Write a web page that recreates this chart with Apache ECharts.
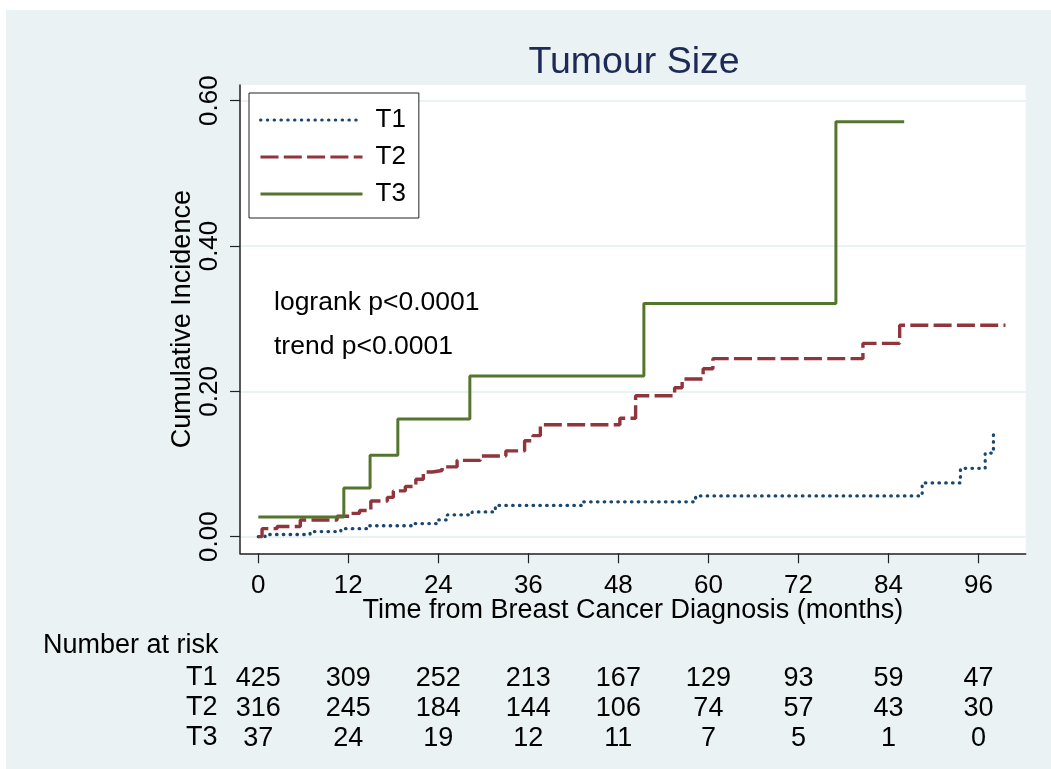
<!DOCTYPE html>
<html>
<head>
<meta charset="utf-8">
<title>Tumour Size</title>
<script src="https://cdn.jsdelivr.net/npm/echarts@6/dist/echarts.min.js"></script>
<style>
  html, body { margin: 0; padding: 0; background: #ffffff; }
  #backdrop { position: absolute; left: 6px; top: 10px; width: 1045px; height: 759px; background: #eaf2f3; }
  #chart { position: absolute; left: 0; top: 0; width: 1051px; height: 769px; }
</style>
</head>
<body>
<div id="backdrop"></div>
<div id="chart"></div>
<script>
// Cumulative incidence step curves by tumour size group (months, proportion)
const t1Times  = [0, 0.9, 6.9, 11.0, 14.8, 20.9, 23.8, 25.2, 28.5, 31.6, 43.2, 58.3, 88.5, 93.6, 96.9, 98.0, 98.3];
const t1Values = [0, 0.003, 0.007, 0.011, 0.015, 0.018, 0.023, 0.030, 0.034, 0.043, 0.048, 0.056, 0.074, 0.094, 0.115, 0.143, 0.143];

const t2Times  = [0, 0.5, 2.5, 5.6, 10.5, 12.3, 13.5, 15.0, 17.2, 18.0, 19.6, 21.0, 22.0, 23.2, 24.5, 26.5, 29.6, 33.0, 35.5, 36.6, 37.6, 48.2, 50.3, 55.5, 56.5, 59.3, 60.6, 80.6, 85.5, 99.6];
const t2Values = [0, 0.011, 0.014, 0.023, 0.028, 0.032, 0.036, 0.049, 0.054, 0.063, 0.069, 0.079, 0.089, 0.091, 0.096, 0.105, 0.111, 0.118, 0.132, 0.139, 0.154, 0.163, 0.194, 0.205, 0.217, 0.231, 0.245, 0.266, 0.291, 0.291];

const t3Times  = [0, 11.4, 14.9, 18.6, 28.2, 51.4, 77.0, 86.1];
const t3Values = [0.027, 0.067, 0.112, 0.162, 0.221, 0.321, 0.571, 0.571];

// Axis ticks
const xTicks = [0, 12, 24, 36, 48, 60, 72, 84, 96];
const yTicks = [0, 0.2, 0.4, 0.6];

// Number at risk at each x tick
const groups = ['T1', 'T2', 'T3'];
const riskT1 = [425, 309, 252, 213, 167, 129, 93, 59, 47];
const riskT2 = [316, 245, 184, 144, 106, 74, 57, 43, 30];
const riskT3 = [37, 24, 19, 12, 11, 7, 5, 1, 0];
const riskRows = [riskT1, riskT2, riskT3];

const FONT = "'Liberation Sans', Arial, sans-serif";
const X_MIN = -2.44, X_MAX = 102.3;
const Y_MIN = -0.0229, Y_MAX = 0.6216;

function pairs(times, values) {
  return times.map((t, i) => [t, values[i]]);
}

const mainX = {
  type: 'value', min: X_MIN, max: X_MAX, position: 'bottom',
  name: 'Time from Breast Cancer Diagnosis (months)',
  nameLocation: 'middle', nameGap: 44, nameMoveOverlap: false,
  nameTextStyle: { fontSize: 27, color: '#000', fontFamily: FONT, lineHeight: 27 },
  axisLine: { show: true, onZero: false, lineStyle: { color: '#222', width: 1.5 } },
  axisTick: { show: true, length: 10, customValues: xTicks, lineStyle: { color: '#222', width: 1.2 } },
  axisLabel: { customValues: xTicks, margin: 20, fontSize: 26, color: '#000', fontFamily: FONT, lineHeight: 26 },
  splitLine: { show: false }
};

const riskOffsets = [104, 134, 164];
const riskAxes = riskRows.map((row, r) => ({
  type: 'value', min: X_MIN, max: X_MAX, position: 'bottom', offset: riskOffsets[r],
  axisLine: { show: false, onZero: false },
  axisTick: { show: false },
  splitLine: { show: false },
  axisLabel: {
    customValues: xTicks, margin: 8, fontSize: 27, color: '#000', fontFamily: FONT, lineHeight: 27,
    formatter: (v) => { const i = xTicks.indexOf(Math.round(v)); return i >= 0 ? String(row[i]) : ''; }
  }
}));

const chart = echarts.init(document.getElementById('chart'), null, { renderer: 'canvas' });

chart.setOption({
  animation: false,
  textStyle: { fontFamily: FONT },
  title: {
    text: 'Tumour Size', left: 629, top: 39, textAlign: 'center',
    textStyle: { fontSize: 37.5, fontWeight: 'normal', color: '#1c2a55', fontFamily: FONT }
  },
  grid: {
    left: 240, top: 85, right: 25.3, bottom: 215.7,
    show: true, backgroundColor: '#ffffff', borderWidth: 0
  },
  legend: {
    orient: 'vertical', left: 249, top: 93,
    backgroundColor: '#ffffff', borderColor: '#222', borderWidth: 1,
    padding: [14, 13, 11, 10], itemGap: 11, itemWidth: 102, itemHeight: 26,
    itemStyle: { opacity: 0 },
    lineStyle: { width: 3 },
    textStyle: { fontSize: 26, color: '#000', fontFamily: FONT, padding: [0, 0, 0, 8] },
    data: groups
  },
  xAxis: [mainX].concat(riskAxes),
  yAxis: {
    type: 'value', min: Y_MIN, max: Y_MAX,
    name: 'Cumulative Incidence', nameLocation: 'middle', nameGap: 44, nameMoveOverlap: false,
    nameTextStyle: { fontSize: 27, color: '#000', fontFamily: FONT, lineHeight: 27 },
    axisLine: { show: true, onZero: false, lineStyle: { color: '#222', width: 1.5 } },
    axisTick: { show: true, length: 10, customValues: yTicks, lineStyle: { color: '#222', width: 1.2 } },
    axisLabel: {
      customValues: yTicks, rotate: 90, margin: 17, fontSize: 26, color: '#000', fontFamily: FONT, lineHeight: 26,
      formatter: (v) => v.toFixed(2)
    },
    splitLine: { show: true, lineStyle: { color: '#eaf2f3', width: 2 } }
  },
  series: [
    {
      name: 'T1', type: 'line', step: 'end', symbol: 'none', showSymbol: false, xAxisIndex: 0,
      data: pairs(t1Times, t1Values),
      lineStyle: { color: '#1a476f', width: 3.3, type: [0.5, 6.3], cap: 'round' },
      itemStyle: { color: '#1a476f' }, z: 3
    },
    {
      name: 'T2', type: 'line', step: 'end', symbol: 'none', showSymbol: false, xAxisIndex: 0,
      data: pairs(t2Times, t2Values),
      lineStyle: { color: '#90353b', width: 3.4, type: [18, 5.3] },
      itemStyle: { color: '#90353b' }, z: 3
    },
    {
      name: 'T3', type: 'line', step: 'end', symbol: 'none', showSymbol: false, xAxisIndex: 0,
      data: pairs(t3Times, t3Values),
      lineStyle: { color: '#55752f', width: 3, type: 'solid' },
      itemStyle: { color: '#55752f' }, z: 3
    }
  ],
  graphic: [
    { type: 'text', x: 274, y: 303, style: { text: 'logrank p<0.0001', font: '26.5px ' + FONT, fill: '#000', verticalAlign: 'middle' }, z: 10 },
    { type: 'text', x: 274, y: 347, style: { text: 'trend p<0.0001', font: '26.5px ' + FONT, fill: '#000', verticalAlign: 'middle' }, z: 10 },
    { type: 'text', x: 43, y: 646, style: { text: 'Number at risk', font: '27px ' + FONT, fill: '#000', verticalAlign: 'middle' } },
    { type: 'text', x: 186, y: 678, style: { text: groups[0], font: '27px ' + FONT, fill: '#000', verticalAlign: 'middle' } },
    { type: 'text', x: 186, y: 708, style: { text: groups[1], font: '27px ' + FONT, fill: '#000', verticalAlign: 'middle' } },
    { type: 'text', x: 186, y: 738, style: { text: groups[2], font: '27px ' + FONT, fill: '#000', verticalAlign: 'middle' } }
  ]
});
</script>
</body>
</html>
